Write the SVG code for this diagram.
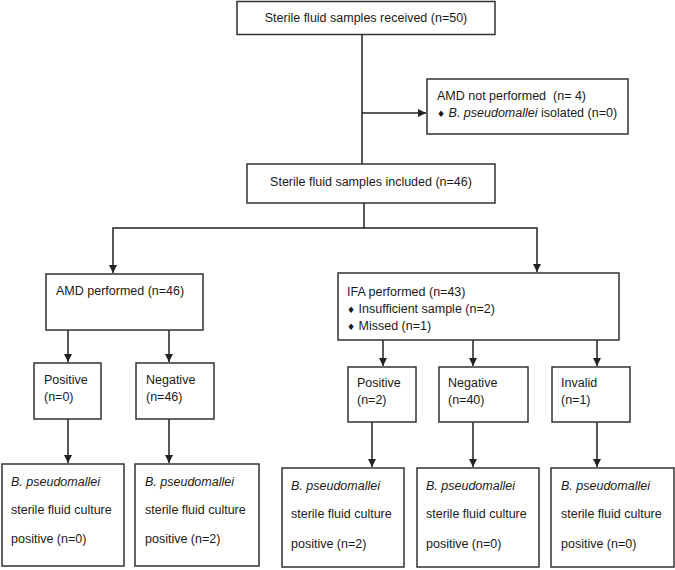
<svg xmlns="http://www.w3.org/2000/svg" width="675" height="570" viewBox="0 0 675 570">
<style>
.box{fill:#fff;stroke:#333;stroke-width:1.5}
.t{font-family:"Liberation Sans",Arial,sans-serif;font-size:12.5px;fill:#1a1a1a}
.i{font-style:italic}
.b{font-family:"DejaVu Sans",sans-serif;font-size:9px}
.c{fill:none;stroke:#222;stroke-width:1.5}
</style>
<defs>
<marker id="ah" viewBox="0 0 10 10" refX="10" refY="5" markerWidth="8" markerHeight="8" markerUnits="userSpaceOnUse" orient="auto">
<path d="M0,0 L10,5 L0,10 z" fill="#222"/>
</marker>
</defs>
<rect width="675" height="570" fill="#fff"/>
<g id="connectors">
<path class="c" d="M362,34.5 V163.5"/>
<path class="c" d="M362,113 H426" marker-end="url(#ah)"/>
<path class="c" d="M364,203 V228 H113 V273" marker-end="url(#ah)"/>
<path class="c" d="M364,228 H537 V272" marker-end="url(#ah)"/>
<path class="c" d="M68,330 V362" marker-end="url(#ah)"/>
<path class="c" d="M169,330 V362" marker-end="url(#ah)"/>
<path class="c" d="M68,419 V463" marker-end="url(#ah)"/>
<path class="c" d="M169,419 V463" marker-end="url(#ah)"/>
<path class="c" d="M383,340 V366" marker-end="url(#ah)"/>
<path class="c" d="M473,340 V366" marker-end="url(#ah)"/>
<path class="c" d="M597,340 V366" marker-end="url(#ah)"/>
<path class="c" d="M372,422 V467" marker-end="url(#ah)"/>
<path class="c" d="M473,422 V467" marker-end="url(#ah)"/>
<path class="c" d="M597,422 V467" marker-end="url(#ah)"/>
</g>
<g id="received">
<rect class="box" x="237" y="1.5" width="258" height="33"/>
<text class="t" x="366" y="22" text-anchor="middle">Sterile fluid samples received (n=50)</text>
</g>
<g id="amd-not">
<rect class="box" x="427" y="79" width="201" height="55"/>
<text class="t" x="437" y="100" xml:space="preserve">AMD not performed  (n= 4)</text>
<text class="t" x="437" y="117"><tspan class="b">♦</tspan> <tspan class="i">B. pseudomallei</tspan> isolated (n=0)</text>
</g>
<g id="included">
<rect class="box" x="247" y="164" width="248" height="39"/>
<text class="t" x="371" y="186" text-anchor="middle">Sterile fluid samples included (n=46)</text>
</g>
<g id="amd">
<rect class="box" x="46" y="274" width="157" height="56"/>
<text class="t" x="56" y="295">AMD performed (n=46)</text>
</g>
<g id="amd-pos">
<rect class="box" x="34" y="363" width="67" height="56"/>
<text class="t" x="44" y="384">Positive</text>
<text class="t" x="44" y="401">(n=0)</text>
</g>
<g id="amd-neg">
<rect class="box" x="136" y="363" width="78" height="56"/>
<text class="t" x="146" y="384">Negative</text>
<text class="t" x="146" y="401">(n=46)</text>
</g>
<g id="amd-pos-culture">
<rect class="box" x="2" y="464" width="122" height="102"/>
<text class="t i" x="11" y="486">B. pseudomallei</text>
<text class="t" x="11" y="514">sterile fluid culture</text>
<text class="t" x="11" y="543">positive (n=0)</text>
</g>
<g id="amd-neg-culture">
<rect class="box" x="135" y="464" width="124" height="102"/>
<text class="t i" x="145" y="486">B. pseudomallei</text>
<text class="t" x="145" y="514">sterile fluid culture</text>
<text class="t" x="145" y="543">positive (n=2)</text>
</g>
<g id="ifa">
<rect class="box" x="338" y="273" width="281" height="67"/>
<text class="t" x="347" y="296">IFA performed (n=43)</text>
<text class="t" x="347" y="313"><tspan class="b">♦</tspan> Insufficient sample (n=2)</text>
<text class="t" x="347" y="330"><tspan class="b">♦</tspan> Missed (n=1)</text>
</g>
<g id="ifa-pos">
<rect class="box" x="348" y="367" width="68" height="55"/>
<text class="t" x="357" y="387">Positive</text>
<text class="t" x="357" y="404">(n=2)</text>
</g>
<g id="ifa-neg">
<rect class="box" x="439" y="367" width="89" height="55"/>
<text class="t" x="448" y="387">Negative</text>
<text class="t" x="448" y="404">(n=40)</text>
</g>
<g id="ifa-inv">
<rect class="box" x="552" y="367" width="78" height="55"/>
<text class="t" x="561" y="387">Invalid</text>
<text class="t" x="561" y="404">(n=1)</text>
</g>
<g id="ifa-pos-culture">
<rect class="box" x="282" y="468" width="122" height="99"/>
<text class="t i" x="291" y="490">B. pseudomallei</text>
<text class="t" x="291" y="518">sterile fluid culture</text>
<text class="t" x="291" y="548">positive (n=2)</text>
</g>
<g id="ifa-neg-culture">
<rect class="box" x="417" y="468" width="122" height="99"/>
<text class="t i" x="426" y="490">B. pseudomallei</text>
<text class="t" x="426" y="518">sterile fluid culture</text>
<text class="t" x="426" y="548">positive (n=0)</text>
</g>
<g id="ifa-inv-culture">
<rect class="box" x="551" y="468" width="123" height="99"/>
<text class="t i" x="561" y="490">B. pseudomallei</text>
<text class="t" x="561" y="518">sterile fluid culture</text>
<text class="t" x="561" y="548">positive (n=0)</text>
</g>
</svg>
